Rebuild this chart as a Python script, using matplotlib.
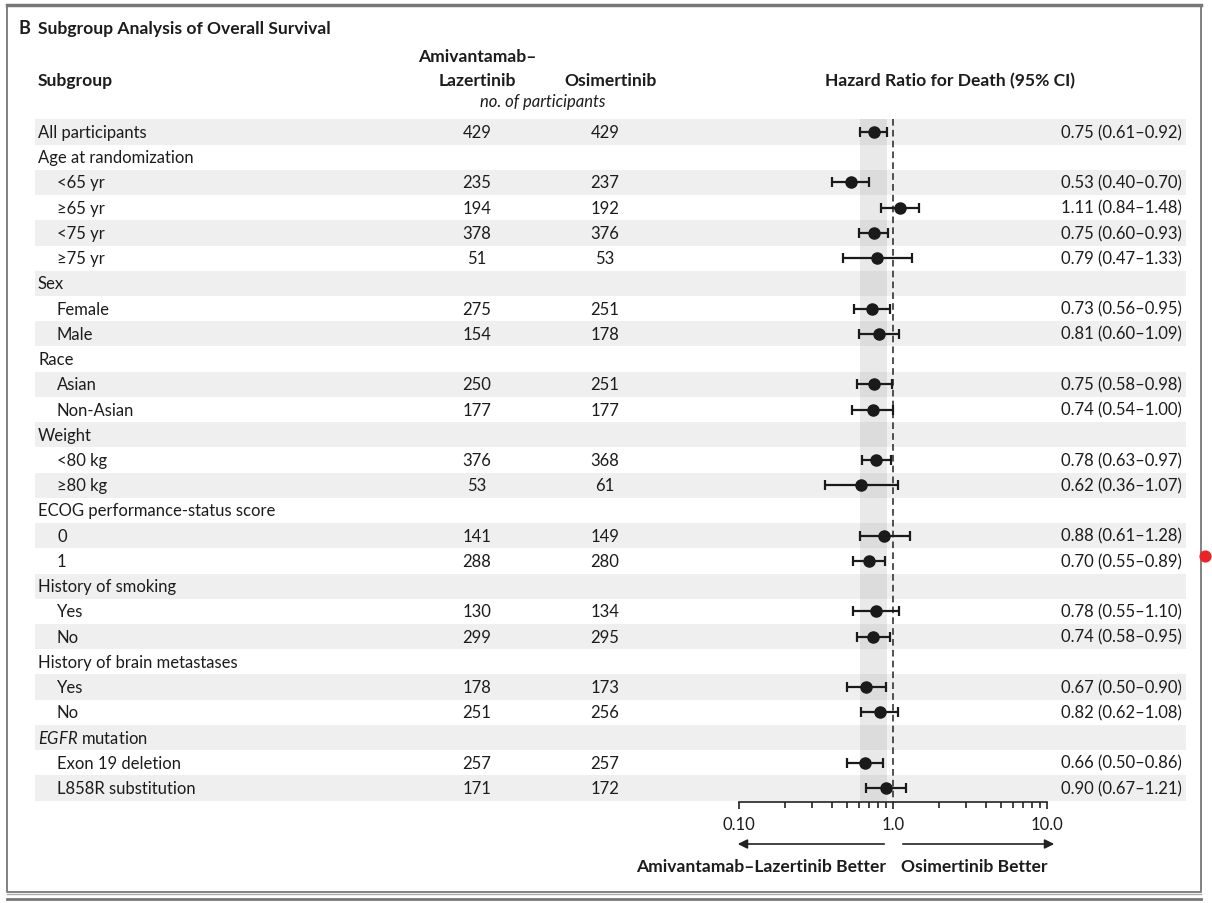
import numpy as np
import matplotlib
matplotlib.use("Agg")
import matplotlib.pyplot as plt
from matplotlib.patches import Rectangle

# DATA

labels = ["All participants", "Age at randomization", "<65 yr", "\u226565 yr", "<75 yr", "\u226575 yr",
          "Sex", "Female", "Male", "Race", "Asian", "Non-Asian", "Weight", "<80 kg", "\u226580 kg",
          "ECOG performance-status score", "0", "1", "History of smoking", "Yes", "No",
          "History of brain metastases", "Yes", "No", "$\\mathit{EGFR}$ mutation",
          "Exon 19 deletion", "L858R substitution"]
indent = [0, 0, 1, 1, 1, 1, 0, 1, 1, 0, 1, 1, 0, 1, 1, 0, 1, 1, 0, 1, 1, 0, 1, 1, 0, 1, 1]
n_amivantamab = [429, None, 235, 194, 378, 51, None, 275, 154, None, 250, 177, None, 376, 53,
                 None, 141, 288, None, 130, 299, None, 178, 251, None, 257, 171]
n_osimertinib = [429, None, 237, 192, 376, 53, None, 251, 178, None, 251, 177, None, 368, 61,
                 None, 149, 280, None, 134, 295, None, 173, 256, None, 257, 172]
hr = [0.75, None, 0.53, 1.11, 0.75, 0.79, None, 0.73, 0.81, None, 0.75, 0.74, None, 0.78, 0.62,
      None, 0.88, 0.70, None, 0.78, 0.74, None, 0.67, 0.82, None, 0.66, 0.90]
ci_low = [0.61, None, 0.40, 0.84, 0.60, 0.47, None, 0.56, 0.60, None, 0.58, 0.54, None, 0.63, 0.36,
          None, 0.61, 0.55, None, 0.55, 0.58, None, 0.50, 0.62, None, 0.50, 0.67]
ci_high = [0.92, None, 0.70, 1.48, 0.93, 1.33, None, 0.95, 1.09, None, 0.98, 1.00, None, 0.97, 1.07,
           None, 1.28, 0.89, None, 1.10, 0.95, None, 0.90, 1.08, None, 0.86, 1.21]

plt.rcParams['font.family'] = ['Lato', 'DejaVu Sans']
plt.rcParams['mathtext.fontset'] = 'custom'
plt.rcParams['mathtext.it'] = 'Lato:italic'
plt.rcParams['mathtext.rm'] = 'Lato'

W, H = 1212, 904
fig = plt.figure(figsize=(W / 100, H / 100), dpi=100)
ax = fig.add_axes([0, 0, 1, 1])
ax.set_xlim(0, W)
ax.set_ylim(H, 0)
ax.axis("off")

txt = "#1c1c1c"
fs = 12
fsb = 12.6

# frame
ax.plot([7, 7, 1201, 1201], [6, 893, 893, 6], color="#777777", lw=1.3)
ax.plot([7, 1201], [6, 6], color="#777777", lw=2.5)
ax.plot([7, 1201], [894.5, 894.5], color="#aaaaaa", lw=1)
ax.plot([7, 1201], [900, 900], color="#777777", lw=2)
ax.scatter([1205], [557], s=60, color="#ee2222", zorder=5)

# headers
ax.text(18, 29, "B", fontsize=13, fontweight="bold", color=txt, va="center")
ax.text(38, 29, "Subgroup Analysis of Overall Survival", fontsize=fsb, fontweight="bold", color=txt, va="center")
ax.text(38, 81, "Subgroup", fontsize=fsb, fontweight="bold", color=txt, va="center")
ax.text(477, 57, "Amivantamab\u2013", fontsize=fsb, fontweight="bold", color=txt, va="center", ha="center")
ax.text(477, 81, "Lazertinib", fontsize=fsb, fontweight="bold", color=txt, va="center", ha="center")
ax.text(611, 81, "Osimertinib", fontsize=fsb, fontweight="bold", color=txt, va="center", ha="center")
ax.text(543, 102, "no. of participants", fontsize=fs, style="italic", color=txt, va="center", ha="center")
ax.text(950, 81, "Hazard Ratio for Death (95% CI)", fontsize=fsb, fontweight="bold", color=txt, va="center", ha="center")

y0, step = 133, 25.23
rows_y = [y0 + step * i for i in range(len(labels))]

for i, y in enumerate(rows_y):
    if i % 2 == 0:
        ax.add_patch(Rectangle((35, y - step / 2), 1186 - 35, step, color="#efefef", lw=0, zorder=0))
    ax.text(38 + 19 * indent[i], y, labels[i], fontsize=fs, color=txt, va="center")
    if n_amivantamab[i] is not None:
        ax.text(477, y, str(n_amivantamab[i]), fontsize=fs, color=txt, va="center", ha="center")
        ax.text(605, y, str(n_osimertinib[i]), fontsize=fs, color=txt, va="center", ha="center")
    if hr[i] is not None:
        ax.text(1182, y, "%.2f (%.2f\u2013%.2f)" % (hr[i], ci_low[i], ci_high[i]),
                fontsize=fs, color=txt, va="center", ha="right")

# forest panel
top, bottom = 110, 803
fa = fig.add_axes([739 / W, (H - bottom) / H, 308 / W, (bottom - top) / H])
fa.patch.set_visible(False)
fa.set_xscale("log")
fa.set_xlim(0.1, 10)
fa.set_ylim(bottom, top)
for s in ["top", "left", "right"]:
    fa.spines[s].set_visible(False)
fa.spines["bottom"].set_color("#222222")
fa.spines["bottom"].set_linewidth(1.2)
fa.set_yticks([])
fa.set_xticks([0.1, 1, 10], labels=["0.10", "1.0", "10.0"])
fa.xaxis.set_minor_locator(matplotlib.ticker.LogLocator(base=10, subs=np.arange(2, 10)))
fa.xaxis.set_minor_formatter(matplotlib.ticker.NullFormatter())
fa.tick_params(axis="x", which="major", direction="out", length=5, width=1.2, color="#222222",
               labelsize=fs, labelcolor=txt, pad=5)
fa.tick_params(axis="x", which="minor", direction="out", length=4, width=1.2, color="#222222")

band_top = rows_y[0] - step / 2
band_bot = rows_y[-1] + step / 2
fa.fill_betweenx([band_top, band_bot], ci_low[0], ci_high[0], color="#888888", alpha=0.18, lw=0, zorder=1)
fa.plot([1, 1], [band_top, bottom], color="#333333", lw=1.2, ls=(0, (4, 2.5)), zorder=2)

for i, y in enumerate(rows_y):
    if hr[i] is None:
        continue
    fa.errorbar(hr[i], y, xerr=[[hr[i] - ci_low[i]], [ci_high[i] - hr[i]]], fmt="o", color="#1a1a1a",
                ms=8, elinewidth=1.6, capsize=3.5, capthick=1.6, zorder=3)

# direction arrows
ax.annotate("", xy=(735, 845), xytext=(887, 845),
            arrowprops=dict(arrowstyle="-|>", color="#222222", lw=1.2, mutation_scale=14))
ax.annotate("", xy=(1057, 845), xytext=(900, 845),
            arrowprops=dict(arrowstyle="-|>", color="#222222", lw=1.2, mutation_scale=14))
ax.text(886, 867, "Amivantamab\u2013Lazertinib Better", fontsize=fsb, fontweight="bold", color=txt,
        va="center", ha="right")
ax.text(901, 867, "Osimertinib Better", fontsize=fsb, fontweight="bold", color=txt, va="center", ha="left")

fig.savefig("out.png", dpi=100)
